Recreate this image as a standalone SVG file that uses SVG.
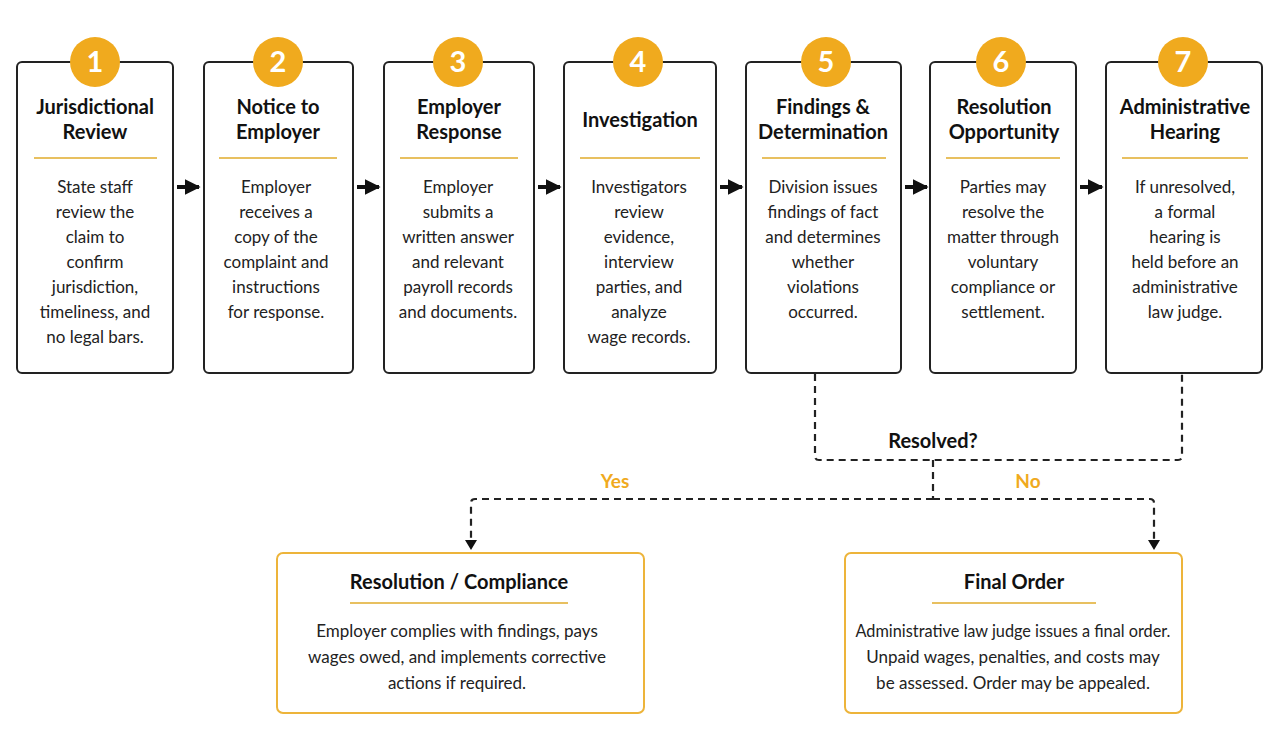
<svg xmlns="http://www.w3.org/2000/svg" width="1280" height="749" viewBox="0 0 1280 749">
<style>
.box{fill:#fff;stroke:#222;stroke-width:2}
.gbox{fill:#fff;stroke:#EDB43A;stroke-width:2}
.c{fill:#F0AA1E}
.n{font-family:Lato,"Open Sans",sans-serif;font-weight:700;font-size:29px;fill:#fff;text-anchor:middle}
.t{font-family:Lato,"Open Sans",sans-serif;font-weight:700;font-size:20px;fill:#111;text-anchor:middle}
.b{font-family:Lato,"Open Sans",sans-serif;font-size:17px;fill:#222;text-anchor:middle}
.u{stroke:#E8C060;stroke-width:2}
.d{fill:none;stroke:#222;stroke-width:2.2;stroke-dasharray:7 5}
.y{font-family:Lato,"Open Sans",sans-serif;font-weight:700;font-size:19px;fill:#F0AA1E;text-anchor:middle}
</style>
<defs>
<marker id="ah" viewBox="0 0 10 10" refX="9" refY="5" markerWidth="4" markerHeight="4" orient="auto"><path d="M0,0L10,5L0,10z" fill="#111"/></marker>
</defs>
<rect width="1280" height="749" fill="#fff"/>
<g id="connectors">
<g stroke="#111" stroke-width="4" marker-end="url(#ah)">
<line x1="177" y1="187" x2="199" y2="187"/>
<line x1="357" y1="187" x2="379" y2="187"/>
<line x1="538" y1="187" x2="560" y2="187"/>
<line x1="720" y1="187" x2="742" y2="187"/>
<line x1="905" y1="187" x2="927" y2="187"/>
<line x1="1080" y1="187" x2="1102" y2="187"/>
</g>
<path class="d" d="M815,374V456q0,4 4,4H1178q4,0 4,-4V374"/>
<path class="d" d="M933,460V499"/>
<path class="d" d="M933,499H475q-4,0 -4,4V540"/>
<path class="d" d="M933,499H1150q4,0 4,4V540"/>
<path d="M465,540h12l-6,10z M1148,540h12l-6,10z" fill="#111"/>
<text class="t" x="933" y="448">Resolved?</text>
<text class="y" x="615" y="488">Yes</text>
<text class="y" x="1028" y="488">No</text>
</g>
<g id="step1"><rect class="box" x="17" y="62" width="156" height="311" rx="5"/><circle class="c" cx="95" cy="62" r="25"/><text class="n" x="95" y="72">1</text>
<text class="t" x="95" y="114">Jurisdictional</text><text class="t" x="95" y="139">Review</text><line class="u" x1="34" y1="158" x2="157" y2="158"/>
<text class="b" x="95" y="193">State staff</text><text class="b" x="95" y="218">review the</text><text class="b" x="95" y="243">claim to</text><text class="b" x="95" y="268">confirm</text><text class="b" x="95" y="293">jurisdiction,</text><text class="b" x="95" y="318">timeliness, and</text><text class="b" x="95" y="343">no legal bars.</text></g>
<g id="step2"><rect class="box" x="204" y="62" width="149" height="311" rx="5"/><circle class="c" cx="278" cy="62" r="25"/><text class="n" x="278" y="72">2</text>
<text class="t" x="278" y="114">Notice to</text><text class="t" x="278" y="139">Employer</text><line class="u" x1="219" y1="158" x2="337" y2="158"/>
<text class="b" x="276" y="193">Employer</text><text class="b" x="276" y="218">receives a</text><text class="b" x="276" y="243">copy of the</text><text class="b" x="276" y="268">complaint and</text><text class="b" x="276" y="293">instructions</text><text class="b" x="276" y="318">for response.</text></g>
<g id="step3"><rect class="box" x="384" y="62" width="150" height="311" rx="5"/><circle class="c" cx="458" cy="62" r="25"/><text class="n" x="458" y="72">3</text>
<text class="t" x="459" y="114">Employer</text><text class="t" x="459" y="139">Response</text><line class="u" x1="400" y1="158" x2="518" y2="158"/>
<text class="b" x="458" y="193">Employer</text><text class="b" x="458" y="218">submits a</text><text class="b" x="458" y="243">written answer</text><text class="b" x="458" y="268">and relevant</text><text class="b" x="458" y="293">payroll records</text><text class="b" x="458" y="318">and documents.</text></g>
<g id="step4"><rect class="box" x="564" y="62" width="152" height="311" rx="5"/><circle class="c" cx="638" cy="62" r="25"/><text class="n" x="638" y="72">4</text>
<text class="t" x="640" y="127">Investigation</text><line class="u" x1="580" y1="158" x2="700" y2="158"/>
<text class="b" x="639" y="193">Investigators</text><text class="b" x="639" y="218">review</text><text class="b" x="639" y="243">evidence,</text><text class="b" x="639" y="268">interview</text><text class="b" x="639" y="293">parties, and</text><text class="b" x="639" y="318">analyze</text><text class="b" x="639" y="343">wage records.</text></g>
<g id="step5"><rect class="box" x="746" y="62" width="155" height="311" rx="5"/><circle class="c" cx="826" cy="62" r="25"/><text class="n" x="826" y="72">5</text>
<text class="t" x="823" y="114">Findings &amp;</text><text class="t" x="823" y="139">Determination</text><line class="u" x1="762" y1="158" x2="886" y2="158"/>
<text class="b" x="823" y="193">Division issues</text><text class="b" x="823" y="218">findings of fact</text><text class="b" x="823" y="243">and determines</text><text class="b" x="823" y="268">whether</text><text class="b" x="823" y="293">violations</text><text class="b" x="823" y="318">occurred.</text></g>
<g id="step6"><rect class="box" x="930" y="62" width="146" height="311" rx="5"/><circle class="c" cx="1001" cy="62" r="25"/><text class="n" x="1001" y="72">6</text>
<text class="t" x="1004" y="114">Resolution</text><text class="t" x="1004" y="139">Opportunity</text><line class="u" x1="946" y1="158" x2="1060" y2="158"/>
<text class="b" x="1003" y="193">Parties may</text><text class="b" x="1003" y="218">resolve the</text><text class="b" x="1003" y="243">matter through</text><text class="b" x="1003" y="268">voluntary</text><text class="b" x="1003" y="293">compliance or</text><text class="b" x="1003" y="318">settlement.</text></g>
<g id="step7"><rect class="box" x="1106" y="62" width="156" height="311" rx="5"/><circle class="c" cx="1183" cy="62" r="25"/><text class="n" x="1183" y="72">7</text>
<text class="t" x="1185" y="114">Administrative</text><text class="t" x="1185" y="139">Hearing</text><line class="u" x1="1122" y1="158" x2="1248" y2="158"/>
<text class="b" x="1185" y="193">If unresolved,</text><text class="b" x="1185" y="218">a formal</text><text class="b" x="1185" y="243">hearing is</text><text class="b" x="1185" y="268">held before an</text><text class="b" x="1185" y="293">administrative</text><text class="b" x="1185" y="318">law judge.</text></g>
<g id="resolution"><rect class="gbox" x="277" y="553" width="367" height="160" rx="6"/>
<text class="t" x="459" y="589">Resolution / Compliance</text><line class="u" x1="350" y1="603" x2="568" y2="603"/>
<text class="b" x="457" y="637">Employer complies with findings, pays</text><text class="b" x="457" y="663">wages owed, and implements corrective</text><text class="b" x="457" y="689">actions if required.</text></g>
<g id="finalorder"><rect class="gbox" x="845" y="553" width="337" height="160" rx="6"/>
<text class="t" x="1014" y="589">Final Order</text><line class="u" x1="932" y1="603" x2="1096" y2="603"/>
<text class="b" x="1013" y="637" style="font-size:16.3px">Administrative law judge issues a final order.</text><text class="b" x="1013" y="663">Unpaid wages, penalties, and costs may</text><text class="b" x="1013" y="689">be assessed. Order may be appealed.</text></g>
</svg>
